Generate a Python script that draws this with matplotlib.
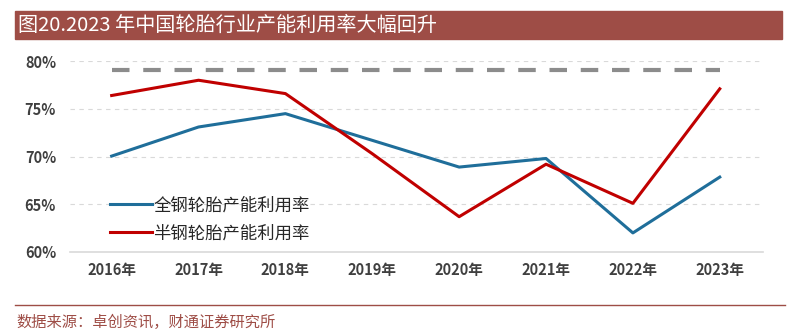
import matplotlib.pyplot as plt
from matplotlib.lines import Line2D
from matplotlib.patches import Rectangle

plt.rcParams['font.family'] = ['Noto Sans CJK SC', 'DejaVu Sans']

years = ['2016年', '2017年', '2018年', '2019年', '2020年', '2021年', '2022年', '2023年']
all_steel = [70.05, 73.1, 74.5, 71.7, 68.9, 69.8, 62.0, 67.85]
semi_steel = [76.4, 78.0, 76.6, 70.3, 63.7, 69.2, 65.1, 77.1]
ref_level = [79.1] * len(years)
yticks = [60, 65, 70, 75, 80]

title = '图20.2023 年中国轮胎行业产能利用率大幅回升'
source = '数据来源：卓创资讯，财通证券研究所'
brown = '#9E4D46'

fig = plt.figure(figsize=(7.95, 3.36), dpi=100)
ax = fig.add_axes([0.088, 0.25, 0.872, 0.568])

x = list(range(len(years)))
ax.plot(x, ref_level, color='#8C8C8C', lw=3, dashes=(4.2, 3.3))
ax.plot(x, all_steel, color='#1F6E9A', lw=2.2, label='全钢轮胎产能利用率')
ax.plot(x, semi_steel, color='#C00000', lw=2.2, label='半钢轮胎产能利用率')

ax.set_xlim(-0.48, 7.5)
ax.set_ylim(60, 80)
ax.set_yticks(yticks)
ax.set_yticklabels(['%d%%' % v for v in yticks])
ax.set_xticks(x)
ax.set_xticklabels(years)
ax.tick_params(length=0, labelsize=10.5, labelcolor='#404040')
ax.tick_params(axis='x', pad=7)
ax.tick_params(axis='y', pad=10)
for lbl in ax.get_xticklabels():
    lbl.set_fontweight('bold')
for lbl in ax.get_yticklabels():
    lbl.set_fontweight('bold')
for v in yticks[1:]:
    ax.axhline(v, color='#D9D9D9', lw=0.8, dashes=(4, 4), zorder=0)
for s in ax.spines:
    ax.spines[s].set_visible(False)
ax.axhline(60, color='#D9D9D9', lw=1.2, zorder=0, clip_on=False)

handles = [Line2D([], [], color='#1F6E9A', lw=2.2), Line2D([], [], color='#C00000', lw=2.2)]
ax.legend(handles, ['全钢轮胎产能利用率', '半钢轮胎产能利用率'], loc='lower left',
          bbox_to_anchor=(0.035, -0.03), frameon=False, fontsize=12.5, handlelength=2.4,
          handletextpad=0.1, labelspacing=0.55, labelcolor='#262626')

fig.patches.append(Rectangle((15 / 795, 1 - 39 / 336), 767 / 795, 28 / 336,
                             transform=fig.transFigure, color=brown, zorder=0))
fig.text(18 / 795, 1 - 25 / 336, title, color='white', fontsize=14.5, va='center')
fig.add_artist(Line2D([15 / 795, 785 / 795], [1 - 305 / 336] * 2, color=brown, lw=1))
fig.text(16 / 795, 1 - 322 / 336, source, color=brown, fontsize=11, va='center')

fig.savefig('out.png', dpi=100)
